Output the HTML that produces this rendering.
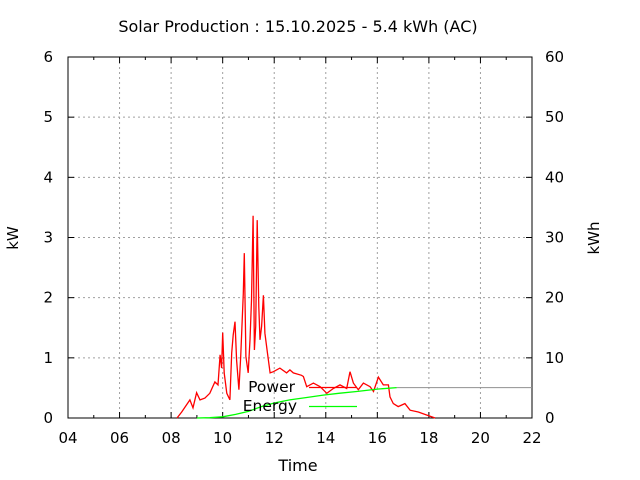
<!DOCTYPE html>
<html><head><meta charset="utf-8"><style>
body{margin:0;background:#fff;}
svg{display:block;font-family:"DejaVu Sans","Liberation Sans",sans-serif;}
</style></head><body>
<svg id="chart" width="640" height="480" viewBox="0 0 640 480">
<text x="298" y="32" font-size="16" text-anchor="middle">Solar Production : 15.10.2025 - 5.4 kWh (AC)</text>
<text x="18" y="238" font-size="15" text-anchor="middle" transform="rotate(-90 18 238)">kW</text>
<text x="599" y="238" font-size="15" text-anchor="middle" transform="rotate(-90 599 238)">kWh</text>
<text x="298" y="471" font-size="16" text-anchor="middle">Time</text>
<g id="grid"></g><g id="axes"></g><g id="series"></g>
<g>
<text x="295" y="392" font-size="15.5" text-anchor="end">Power</text>
<line x1="309" y1="387.5" x2="357" y2="387.5" stroke="#f00" stroke-width="1.2"/>
<text x="297" y="411" font-size="15.5" text-anchor="end">Energy</text>
<line x1="309" y1="406.5" x2="357" y2="406.5" stroke="#0f0" stroke-width="1.2"/>
</g>
</svg>
<script>
const xTicks=["04","06","08","10","12","14","16","18","20","22"];
const yTicks=["0","1","2","3","4","5","6"];
const y2Ticks=["0","10","20","30","40","50","60"];
const powerHours=[8.23,8.41,8.73,8.85,8.99,9.12,9.31,9.5,9.7,9.82,9.9,9.96,10.0,10.06,10.16,10.28,10.35,10.41,10.48,10.54,10.63,10.7,10.8,10.84,10.9,10.99,11.06,11.12,11.18,11.23,11.28,11.34,11.4,11.45,11.51,11.58,11.64,11.73,11.84,11.97,12.22,12.48,12.61,12.74,13.06,13.13,13.26,13.52,13.78,14.04,14.29,14.55,14.81,14.94,15.07,15.26,15.46,15.72,15.85,16.04,16.23,16.43,16.49,16.62,16.81,17.07,17.27,17.59,17.91,18.24];
const powerKW=[0,0.1,0.3,0.17,0.42,0.3,0.33,0.41,0.6,0.55,1.05,0.83,1.42,0.75,0.41,0.3,1.08,1.38,1.6,0.96,0.47,1.02,2.07,2.74,1.02,0.75,1.3,1.96,3.36,1.13,1.52,3.29,1.85,1.3,1.52,2.04,1.41,1.1,0.75,0.77,0.83,0.75,0.8,0.75,0.71,0.69,0.52,0.58,0.52,0.41,0.49,0.55,0.49,0.77,0.58,0.47,0.58,0.52,0.44,0.68,0.55,0.55,0.35,0.24,0.19,0.24,0.13,0.1,0.05,0];
const energyHours=[9.0,9.5,10,10.5,11,11.5,12,12.6,13.26,13.9,14.5,15.2,16.0,16.75];
const energyKWh=[0,0.05,0.2,0.6,1.1,1.9,2.5,3.0,3.4,3.8,4.1,4.4,4.8,5.05];
const L=68,R=532,T=57,B=418;
const xs=h=>L+(h-4)/18*(R-L);
const ys=v=>B-v/6*(B-T);
const y2s=v=>B-v/60*(B-T);
const NS="http://www.w3.org/2000/svg";
function mk(tag,parent,attrs){const e=document.createElementNS(NS,tag);for(const k in attrs)e.setAttribute(k,attrs[k]);parent.appendChild(e);return e;}
const grid=document.getElementById('grid'),axes=document.getElementById('axes'),ser=document.getElementById('series');
xTicks.forEach((t,i)=>{const x=xs(4+i*2);
 if(i>0&&i<xTicks.length-1){const g=mk('line',grid,{x1:x,y1:T,x2:x,y2:B,stroke:'#a0a0a0','stroke-dasharray':'2,3','stroke-width':1});
 
 }
 const tx=mk('text',axes,{x:x,y:443,'font-size':15,'text-anchor':'middle'});tx.textContent=t;
 
 
 [[B,B-6],[T,T+6]].forEach(p=>mk('line',axes,{x1:x,y1:p[0],x2:x,y2:p[1],stroke:'#000'}));
 if(i<xTicks.length-1){const xm=xs(5+i*2);[[B,B-3],[T,T+3]].forEach(p=>mk('line',axes,{x1:xm,y1:p[0],x2:xm,y2:p[1],stroke:'#000'}));}
});
yTicks.forEach((t,i)=>{const y=ys(i);
 if(i>0&&i<yTicks.length-1){const g=mk('line',grid,{x1:L,y1:y,x2:R,y2:y,stroke:'#a0a0a0','stroke-dasharray':'2,3'});
 
 }
 const a=mk('text',axes,{x:53,y:y+5,'font-size':15,'text-anchor':'end'});a.textContent=t;
 
 
 const b=mk('text',axes,{x:545,y:y+5,'font-size':15,'text-anchor':'start'});b.textContent=y2Ticks[i];
 
 
 mk('line',axes,{x1:L,y1:y,x2:L+6,y2:y,stroke:'#000'});mk('line',axes,{x1:R,y1:y,x2:R-6,y2:y,stroke:'#000'});
});
const box=mk('rect',axes,{x:L,y:T,width:R-L,height:B-T,fill:'none',stroke:'#000'});


let pp='';powerHours.forEach((h,i)=>{pp+=xs(h).toFixed(1)+','+ys(powerKW[i]).toFixed(1)+' ';});
const pl=mk('polyline',ser,{points:pp,fill:'none',stroke:'#f00','stroke-width':1.3});


let ep='';energyHours.forEach((h,i)=>{ep+=xs(h).toFixed(1)+','+y2s(energyKWh[i]).toFixed(1)+' ';});
const el=mk('polyline',ser,{points:ep,fill:'none',stroke:'#0f0','stroke-width':1.3});


const last=energyKWh[energyKWh.length-1];
const gl=mk('line',ser,{x1:xs(energyHours[energyHours.length-1]),y1:y2s(last),x2:R,y2:y2s(last),stroke:'#909090','stroke-width':1});


</script>
</body></html>
